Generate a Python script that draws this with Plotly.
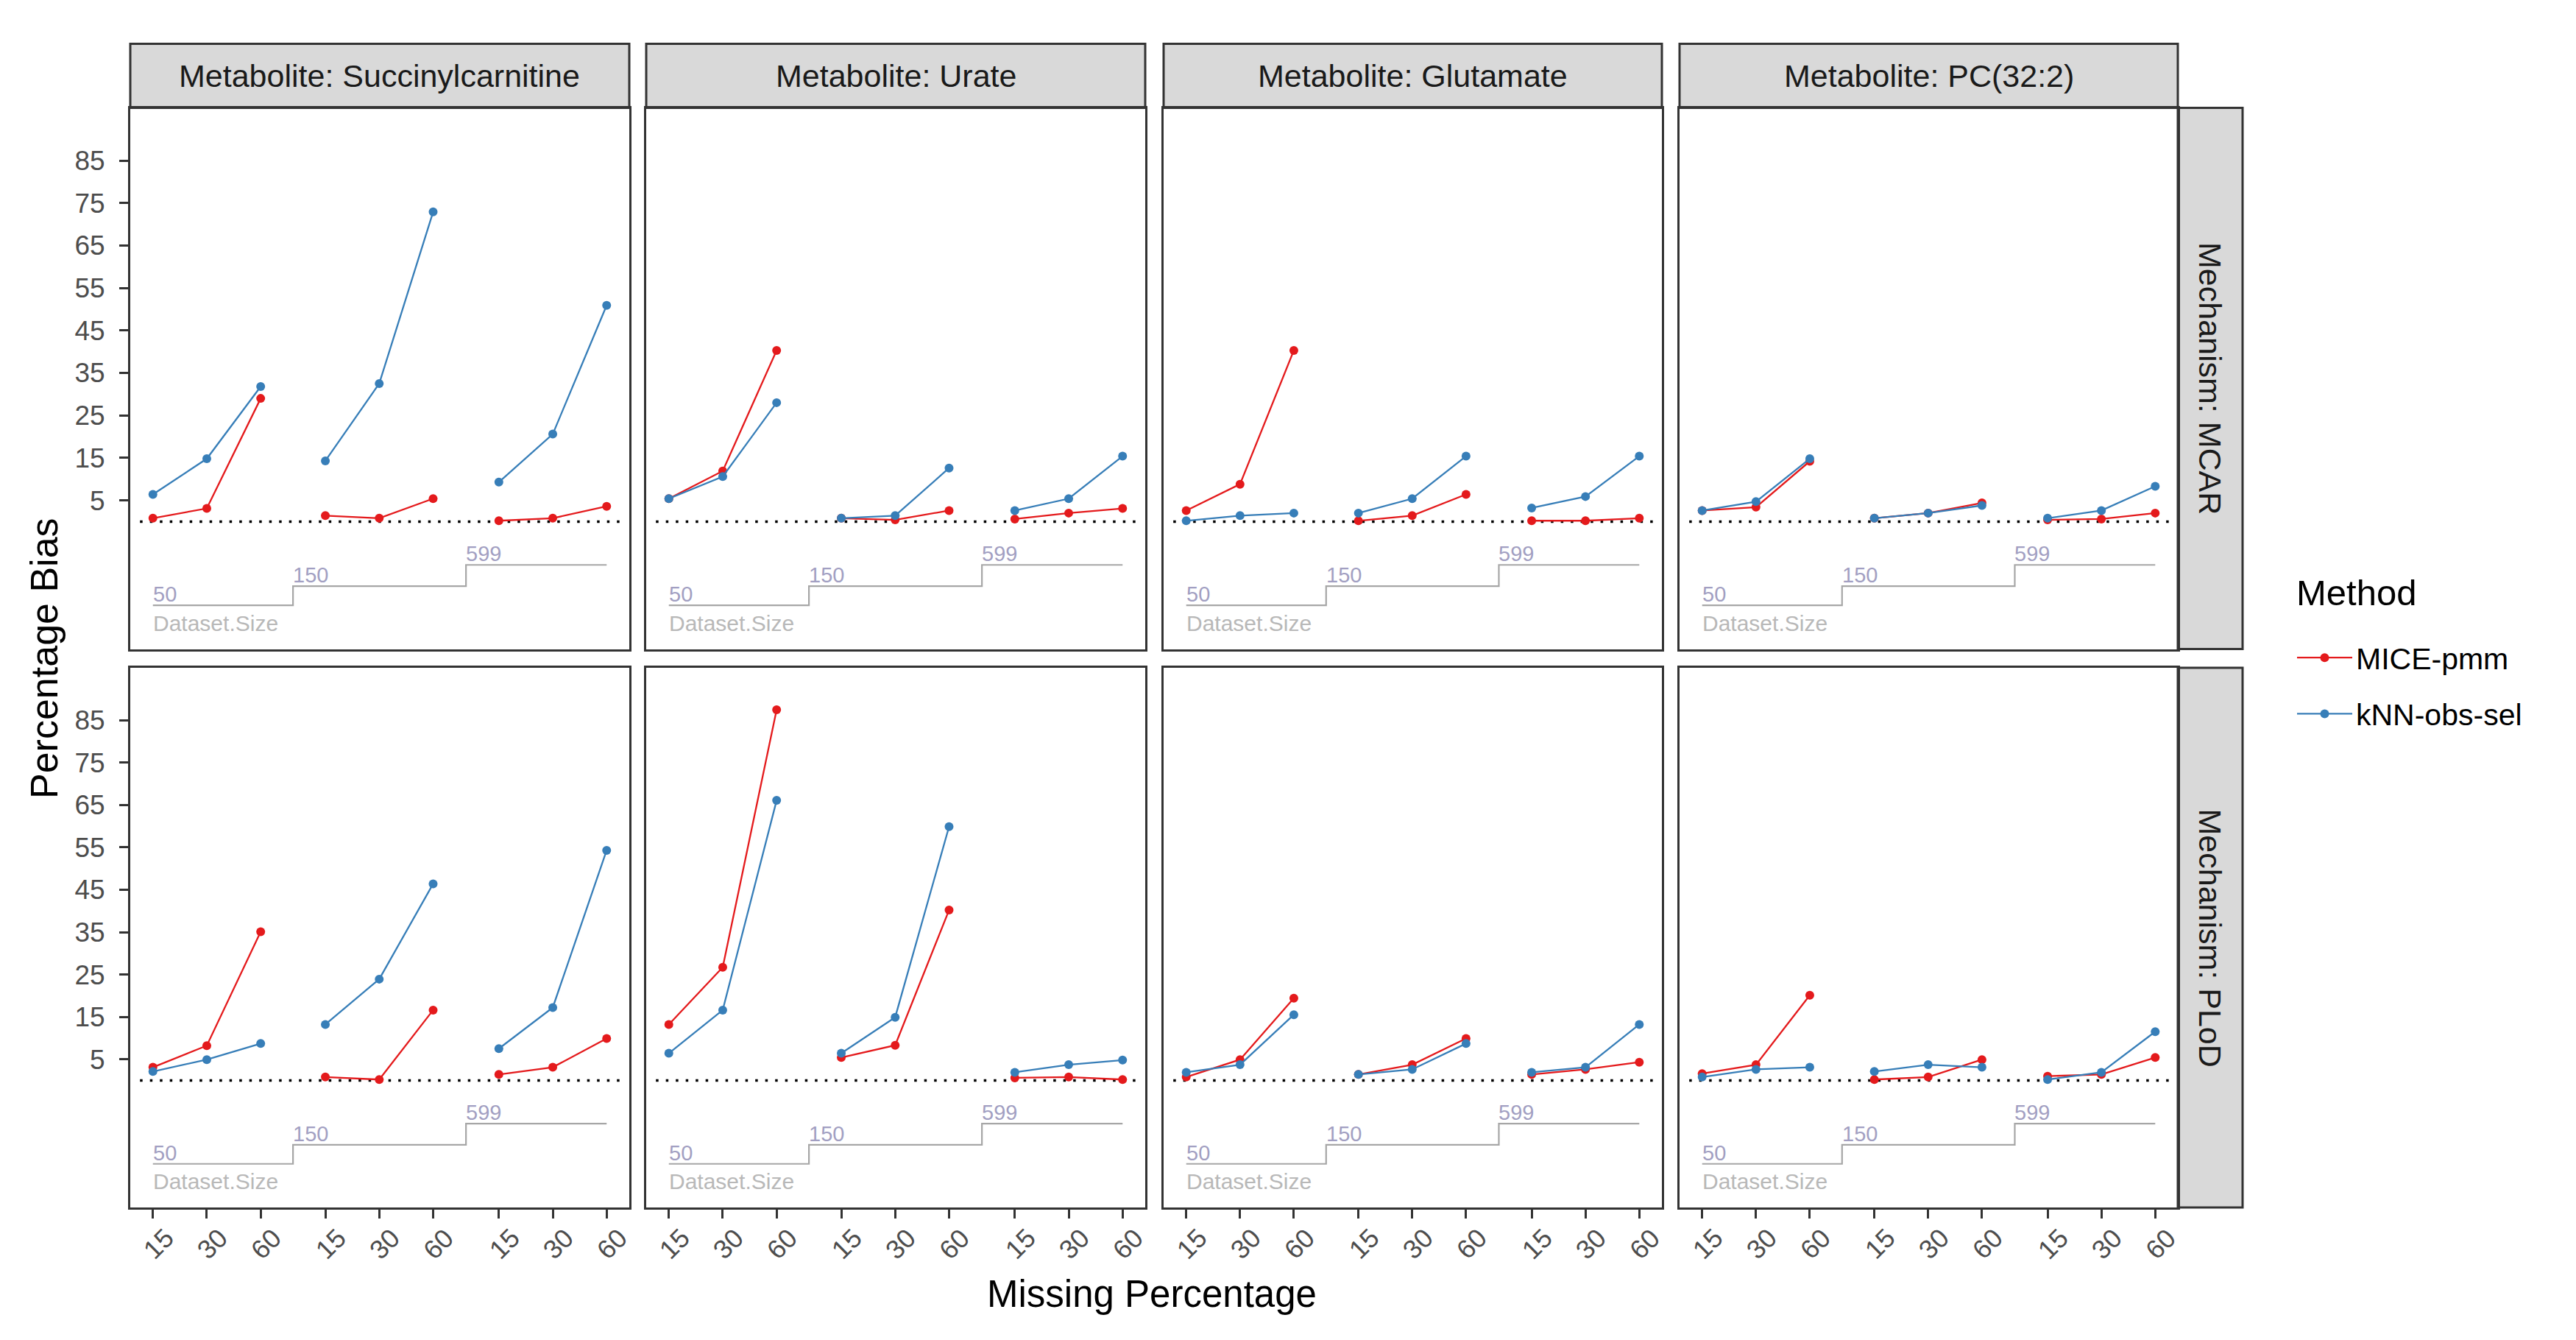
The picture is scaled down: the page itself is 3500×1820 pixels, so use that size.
import plotly.graph_objects as go

# ---------------- data ----------------
methods = ["MICE-pmm", "kNN-obs-sel"]
method_colors = ["#E41A1C", "#377EB8"]
metabolites = ["Succinylcarnitine", "Urate", "Glutamate", "PC(32:2)"]
mechanisms = ["MCAR", "PLoD"]
dataset_sizes = [50, 150, 599]
missing_pct = [15, 30, 60]

# values ordered: size 50 (15,30,60), size 150 (15,30,60), size 599 (15,30,60)
mcar_mice = [
    [0.8, 3.1, 29.0, 1.4, 0.8, 5.4, 0.2, 0.8, 3.6],
    [5.4, 11.9, 40.3, 0.8, 0.4, 2.6, 0.6, 2.0, 3.1],
    [2.6, 8.8, 40.3, 0.2, 1.4, 6.4, 0.2, 0.2, 0.8],
    [2.6, 3.4, 14.2, 0.8, 2.0, 4.4, 0.4, 0.6, 2.0],
]
mcar_knn = [
    [6.4, 14.8, 31.8, 14.3, 32.5, 72.9, 9.3, 20.6, 50.9],
    [5.4, 10.6, 28.0, 0.8, 1.4, 12.6, 2.6, 5.4, 15.4],
    [0.2, 1.4, 2.0, 2.0, 5.4, 15.4, 3.2, 5.9, 15.4],
    [2.6, 4.7, 14.8, 0.8, 2.0, 3.8, 0.8, 2.6, 8.3],
]
plod_mice = [
    [3.1, 8.2, 35.1, 0.8, 0.2, 16.6, 1.4, 3.1, 9.9],
    [13.2, 26.7, 87.5, 5.4, 8.3, 40.2, 0.6, 0.8, 0.2],
    [0.8, 4.9, 19.4, 1.4, 3.7, 9.9, 1.4, 2.6, 4.3],
    [1.6, 3.7, 20.1, 0.2, 0.8, 4.9, 1.0, 1.4, 5.4],
]
plod_knn = [
    [2.1, 4.9, 8.7, 13.2, 23.9, 46.4, 7.5, 17.2, 54.3],
    [6.4, 16.6, 66.1, 6.4, 14.9, 59.9, 1.9, 3.7, 4.8],
    [1.9, 3.7, 15.5, 1.4, 2.6, 8.7, 1.9, 3.1, 13.2],
    [0.8, 2.6, 3.1, 2.1, 3.7, 3.1, 0.2, 1.9, 11.5],
]
values = {("MCAR", 0): mcar_mice, ("MCAR", 1): mcar_knn,
          ("PLoD", 0): plod_mice, ("PLoD", 1): plod_knn}

y_ticks = [5, 15, 25, 35, 45, 55, 65, 75, 85]

# ---------------- layout constants ----------------
W, H = 3500, 1820
FONT = "Liberation Sans, Arial, sans-serif"
group_starts = [0.0, 3.2, 6.42]          # x offset of each dataset-size block
step_levels = [-19.7, -15.2, -10.2]      # y level of the dataset-size step line
x_range = [-0.42, 8.84]
y_range = [-30.0, 97.4]

panel_x = [(169, 847), (870, 1548), (1573, 2250), (2274, 2951)]
panel_y = [(138.5, 873.5), (899, 1632)]
strip_top = (51.5, 138.5)
strip_right = (2951, 3039)

def px_x(v):
    return v / W

def px_y(v):
    return 1 - v / H

xpos = []
for g in range(len(dataset_sizes)):
    for m in range(len(missing_pct)):
        xpos.append(group_starts[g] + m)
tick_text = [str(p) for _ in dataset_sizes for p in missing_pct]

fig = go.Figure()
shapes = []
annotations = []

for r, mech in enumerate(mechanisms):
    for c, met in enumerate(metabolites):
        idx = r * 4 + c + 1
        xa = "x" if idx == 1 else f"x{idx}"
        ya = "y" if idx == 1 else f"y{idx}"

        # dataset size step line
        sx = [xpos[0]]
        sy = [step_levels[0]]
        for g in range(1, len(dataset_sizes)):
            mid = (xpos[g * 3 - 1] + xpos[g * 3]) / 2
            sx.append(mid)
            sy.append(step_levels[g])
        sx.append(xpos[-1])
        sy.append(step_levels[-1])
        fig.add_trace(go.Scatter(x=sx, y=sy, mode="lines", line=dict(color="#A6A6A6", width=2.2, shape="hv"),
                                 xaxis=xa, yaxis=ya, showlegend=False, hoverinfo="skip"))
        # step labels
        label_x = [xpos[0]] + sx[1:-1]
        for g, size in enumerate(dataset_sizes):
            annotations.append(dict(x=label_x[g], y=step_levels[g], xref=xa, yref=ya, text=str(size),
                                    showarrow=False, xanchor="left", yanchor="bottom", yshift=-3, xshift=-2,
                                    font=dict(family=FONT, size=29, color="#A29FC2")))
        annotations.append(dict(x=xpos[0], y=-23.9, xref=xa, yref=ya, text="Dataset.Size",
                                showarrow=False, xanchor="left", yanchor="middle", xshift=-2,
                                font=dict(family=FONT, size=30, color="#B8B8B8")))

        # zero reference dotted line
        fig.add_trace(go.Scatter(x=[-0.24, 8.7], y=[0, 0], mode="lines",
                                 line=dict(color="black", width=3.5, dash="3.5px,10px"),
                                 xaxis=xa, yaxis=ya, showlegend=False, hoverinfo="skip"))

        # data lines
        for mi, meth in enumerate(methods):
            vals = values[(mech, mi)][c]
            xs, ys = [], []
            for g in range(len(dataset_sizes)):
                for m in range(len(missing_pct)):
                    k = g * 3 + m
                    xs.append(xpos[k])
                    ys.append(vals[k])
                xs.append(None)
                ys.append(None)
            fig.add_trace(go.Scatter(x=xs, y=ys, mode="lines+markers", name=meth,
                                     line=dict(color=method_colors[mi], width=2.3),
                                     marker=dict(color=method_colors[mi], size=12),
                                     xaxis=xa, yaxis=ya, legendgroup=meth,
                                     showlegend=(idx == 1)))

        x0, x1 = panel_x[c]
        y0, y1 = panel_y[r]
        fig.layout[f"xaxis{'' if idx == 1 else idx}"] = dict(
            domain=[px_x(x0), px_x(x1)], anchor=ya, range=x_range,
            tickvals=xpos, ticktext=tick_text, showticklabels=False,
            ticks="outside" if r == 1 else "", ticklen=12, tickwidth=2.5, tickcolor="#333333",
            showline=True, mirror=True, linecolor="#333333", linewidth=3,
            showgrid=False, zeroline=False, fixedrange=True)
        fig.layout[f"yaxis{'' if idx == 1 else idx}"] = dict(
            domain=[px_y(y1), px_y(y0)], anchor=xa, range=y_range,
            tickvals=y_ticks, showticklabels=(c == 0),
            tickfont=dict(family=FONT, size=37, color="#4D4D4D"),
            ticks="outside" if c == 0 else "", ticklen=12, tickwidth=2.5, tickcolor="#333333",
            ticklabelstandoff=12,
            showline=True, mirror=True, linecolor="#333333", linewidth=3,
            showgrid=False, zeroline=False, fixedrange=True)

        # x tick labels (rotated) on bottom row
        if r == len(mechanisms) - 1:
            for k, xv in enumerate(xpos):
                annotations.append(dict(x=xv, y=px_y(1681), xref=xa, yref="paper", text=tick_text[k],
                                        showarrow=False, textangle=-45, xshift=7,
                                        xanchor="center", yanchor="middle",
                                        font=dict(family=FONT, size=36, color="#4D4D4D")))

# top strips
for c, met in enumerate(metabolites):
    x0, x1 = panel_x[c]
    shapes.append(dict(type="rect", xref="paper", yref="paper",
                       x0=px_x(x0), x1=px_x(x1), y0=px_y(strip_top[1]), y1=px_y(strip_top[0]),
                       fillcolor="#D9D9D9", line=dict(color="#333333", width=3), layer="below"))
    annotations.append(dict(x=px_x((x0 + x1) / 2), y=px_y(sum(strip_top) / 2), xref="paper", yref="paper",
                            text=f"Metabolite: {met}", showarrow=False,
                            xanchor="center", yanchor="middle",
                            font=dict(family=FONT, size=43, color="#1A1A1A")))
# right strips
for r, mech in enumerate(mechanisms):
    y0, y1 = panel_y[r]
    shapes.append(dict(type="rect", xref="paper", yref="paper",
                       x0=px_x(strip_right[0]), x1=px_x(strip_right[1]), y0=px_y(y1), y1=px_y(y0),
                       fillcolor="#D9D9D9", line=dict(color="#333333", width=3), layer="below"))
    annotations.append(dict(x=px_x(sum(strip_right) / 2), y=px_y((y0 + y1) / 2), xref="paper", yref="paper",
                            text=f"Mechanism: {mech}", showarrow=False, textangle=90,
                            xanchor="center", yanchor="middle",
                            font=dict(family=FONT, size=43, color="#1A1A1A")))

# axis titles
annotations.append(dict(x=px_x(1557), y=px_y(1749), xref="paper", yref="paper", text="Missing Percentage",
                        showarrow=False, xanchor="center", yanchor="middle",
                        font=dict(family=FONT, size=51, color="black")))
annotations.append(dict(x=px_x(52), y=px_y(886), xref="paper", yref="paper", text="Percentage Bias",
                        showarrow=False, textangle=-90, xanchor="center", yanchor="middle",
                        font=dict(family=FONT, size=52, color="black")))
# legend title
annotations.append(dict(x=px_x(3110), y=px_y(797), xref="paper", yref="paper", text="Method",
                        showarrow=False, xanchor="left", yanchor="middle",
                        font=dict(family=FONT, size=49, color="black")))

fig.update_layout(
    width=W, height=H, margin=dict(l=0, r=0, t=0, b=0),
    paper_bgcolor="white", plot_bgcolor="white",
    shapes=shapes, annotations=annotations,
    showlegend=True,
    legend=dict(x=px_x(3108), y=px_y(852), xanchor="left", yanchor="top",
                font=dict(family=FONT, size=41, color="black"),
                tracegroupgap=20, itemwidth=75, bgcolor="rgba(0,0,0,0)"),
    font=dict(family=FONT),
)

fig.write_html("out.html")
